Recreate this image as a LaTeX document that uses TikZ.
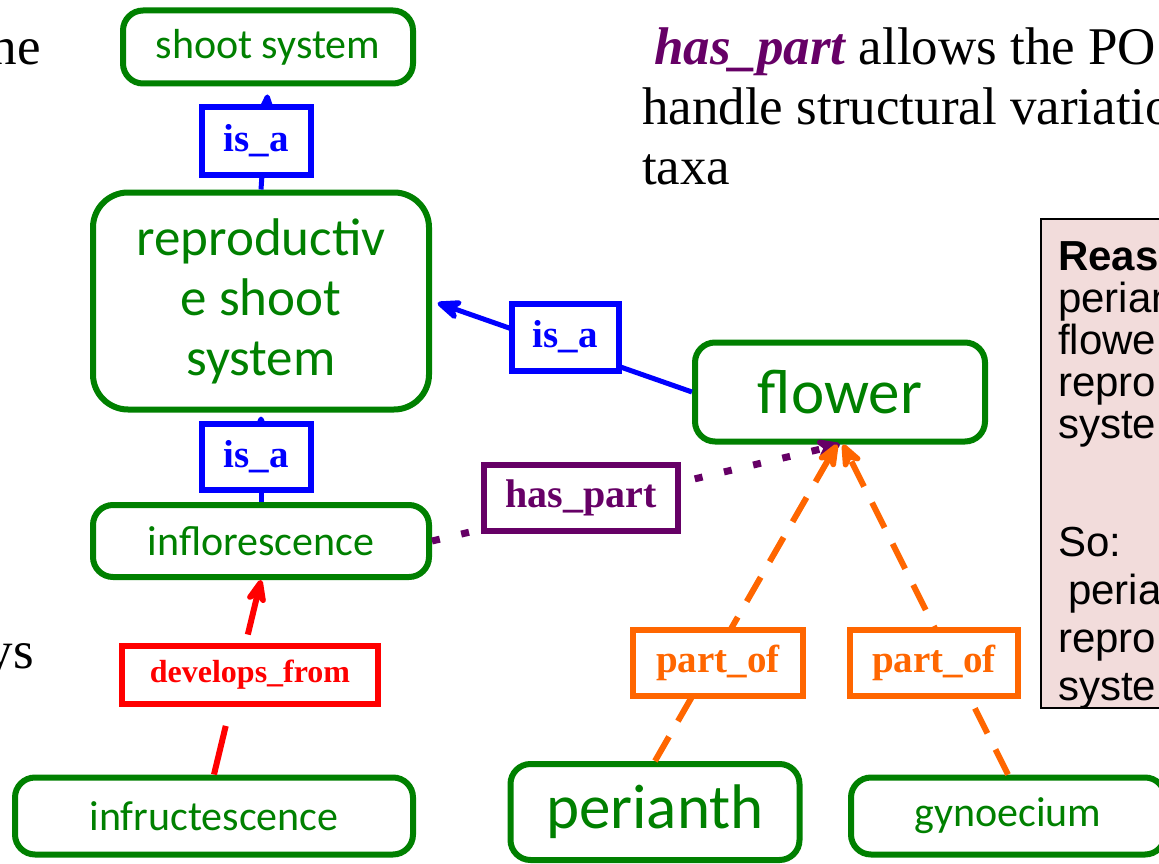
\documentclass[tikz,border=0pt]{standalone}
\usepackage{fontspec}
\setmainfont{Liberation Serif}
\setsansfont{Liberation Sans}
\newfontfamily\calib{Carlito}
\usetikzlibrary{arrows.meta}
\definecolor{termgreen}{HTML}{008000}
\definecolor{relblue}{HTML}{0000FF}
\definecolor{relpurple}{HTML}{660066}
\definecolor{relred}{HTML}{FF0000}
\definecolor{relorange}{HTML}{FF6600}
\definecolor{notepink}{HTML}{F2DCDB}
\newcommand{\arw}{-{Stealth[length=32pt,width=26pt,round]}}

\begin{document}
\begin{tikzpicture}[x=1pt,y=-1pt,
  term/.style={draw=termgreen,text=termgreen,line width=6pt,rounded corners=20pt,
    fill=white,align=center,inner sep=0pt,font=\calib\fontsize{42}{50}\selectfont},
  big/.style={font=\calib\fontsize{63}{72}\selectfont},
  rel/.style={draw=#1,text=#1,line width=6pt,fill=white,inner sep=0pt,
    font=\bfseries\fontsize{39}{44}\selectfont},
  isa/.style={draw=relblue,line width=5pt},
  partof/.style={draw=relorange,line width=6pt,dash pattern=on 28pt off 18pt},
  devfrom/.style={draw=relred,line width=6pt,dash pattern=on 50pt off 22pt},
  haspart/.style={draw=relpurple,line width=7pt,dash pattern=on 8pt off 22pt},
  slide/.style={inner sep=0pt,font=\fontsize{53}{60}\selectfont}]
\useasboundingbox (0,0) rectangle (1159,864);
\clip (0,0) rectangle (1159,864);
%terms
\node[term,minimum width=290pt,minimum height=73pt] (shoot) at (268,47) {shoot system};
\node[term,minimum width=336pt,minimum height=217pt,rounded corners=35pt,
  font=\calib\fontsize{53}{60}\selectfont] (repro) at (261,301) {reproductiv\\e shoot\\system};
\node[term,minimum width=336pt,minimum height=72pt] (infl) at (261,541) {inflorescence};
\node[term,minimum width=398pt,minimum height=77pt] (infr) at (214,816) {infructescence};
\node[term,big,minimum width=290pt,minimum height=99pt] (flower) at (840,392) {flower};
\node[term,big,minimum width=289pt,minimum height=96pt] (peri) at (655,812) {perianth};
\node[term,minimum width=314pt,minimum height=77pt] (gyno) at (1008,816) {gynoecium};
%relations
\draw[isa,\arw,shorten >=8pt] (repro.north) -- (shoot.south);
\draw[isa,\arw,shorten >=6pt] (flower.west) -- (repro.east);
\draw[isa,\arw,shorten >=4pt] (infl.north) -- (repro.south);
\draw[haspart,\arw] (infl.east) -- (flower.south);
\draw[devfrom,\arw] (infr.north) -- (infl.south);
\draw[partof,\arw] (peri.north) -- ([xshift=-3pt]flower.south);
\draw[partof,\arw] (gyno.north) -- ([xshift=3pt]flower.south);
%relation labels
\node[rel=relblue,minimum width=109pt,minimum height=67pt] (isatop) at (256,141) {is\_a};
\node[rel=relblue,minimum width=107pt,minimum height=67pt] (isaright) at (565,337) {is\_a};
\node[rel=relblue,minimum width=109pt,minimum height=66pt] (isabot) at (256,457) {is\_a};
\node[rel=relpurple,minimum width=194pt,minimum height=66pt,
  font=\bfseries\fontsize{40}{44}\selectfont] (haspartlbl) at (581,498) {has\_part};
\node[rel=relred,minimum width=256pt,minimum height=58pt,
  font=\bfseries\fontsize{32}{38}\selectfont] (devlbl) at (250,675) {develops\_from};
\node[rel=relorange,minimum width=170pt,minimum height=66pt] (partofl) at (718,663) {part\_of};
\node[rel=relorange,minimum width=168pt,minimum height=66pt] (partofr) at (934,663) {part\_of};
%slide text
\node[slide,anchor=north west,align=left] (intro) at (642,28)
  {\hspace*{12pt}\textcolor{relpurple}{\bfseries\itshape has\_part} allows the PO\\
   handle structural variatio\\taxa};
\node[slide,anchor=base east] (hefrag) at (41,65) {he};
\node[slide,anchor=base east] (ysfrag) at (34,668) {ys};
%reasoning box
\node[draw=black,line width=2pt,fill=notepink,anchor=north west,
  minimum width=200pt,minimum height=489pt] (reason) at (1040,218) {};
\node[anchor=north west,align=left,inner sep=0pt,font=\sffamily\fontsize{42}{42}\selectfont]
  (reasontext) at (1058,241) {\textbf{Reas}\\perian\\flowe\\repro\\syste\\[76pt]So:\\[6pt]
  \hspace*{10pt}peria\\[6pt]repro\\[6pt]syste};
\end{tikzpicture}
\end{document}
